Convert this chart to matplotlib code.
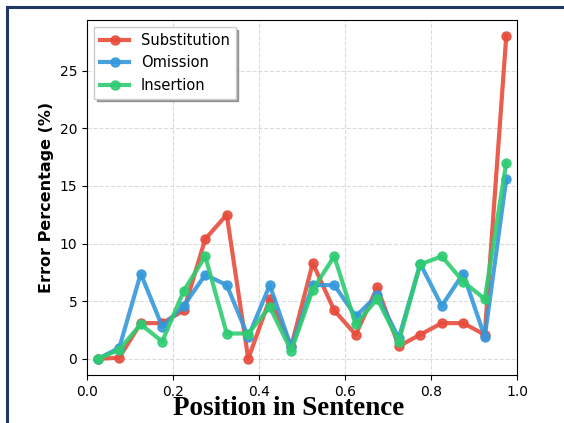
import matplotlib.pyplot as plt
from matplotlib.lines import Line2D

# data
positions = [0.025, 0.075, 0.125, 0.175, 0.225, 0.275, 0.325, 0.375, 0.425, 0.475,
             0.525, 0.575, 0.625, 0.675, 0.725, 0.775, 0.825, 0.875, 0.925, 0.975]
substitution = [0.0, 0.1, 3.1, 3.1, 4.2, 10.4, 12.5, 0.0, 5.2, 1.1,
                8.3, 4.2, 2.1, 6.2, 1.1, 2.1, 3.1, 3.1, 2.1, 28.0]
omission = [0.0, 0.95, 7.4, 2.8, 4.6, 7.3, 6.4, 1.9, 6.4, 1.0,
            6.4, 6.4, 3.7, 5.5, 1.8, 8.25, 4.6, 7.4, 1.9, 15.6]
insertion = [0.0, 0.8, 3.0, 1.5, 5.9, 8.9, 2.2, 2.2, 4.5, 0.7,
             6.0, 8.9, 3.0, 5.2, 1.5, 8.2, 8.9, 6.7, 5.2, 17.0]

names = ['Substitution', 'Omission', 'Insertion']
colors = ['#e74c3c', '#3498db', '#2ecc71']

fig = plt.figure(figsize=(5.64, 4.23), dpi=100)
ax = fig.add_axes([87/564, 1-375/423, (517-87)/564, (375-20)/423])

for vals, name, c in zip([substitution, omission, insertion], names, colors):
    ax.plot(positions, vals, '-o', color=c, lw=3, ms=6.5, alpha=0.9, label=name)

ax.set_xlim(0, 1)
ax.set_ylim(-1.4, 29.4)
ax.grid(True, ls='--', color='#cccccc', alpha=0.7)
ax.tick_params(labelsize=10)
ax.set_ylabel('Error Percentage (%)', fontsize=11.5, fontweight='bold')
ax.set_xlabel('Position in Sentence', fontsize=19.5, fontweight='bold',
              family='Liberation Serif')
ax.xaxis.set_label_coords(0.47, -0.06)

ax.legend(loc='upper left', fontsize=10.5, shadow=True, fancybox=False,
          framealpha=1, edgecolor='#cccccc')

# screenshot frame edges
fig.add_artist(Line2D([7/564, 1], [1-7/423, 1-7/423], color='#1f3864', lw=2.2))
fig.add_artist(Line2D([7/564, 7/564], [0, 1-7/423], color='#1f3864', lw=2.2))

fig.savefig('out.png', dpi=100)
